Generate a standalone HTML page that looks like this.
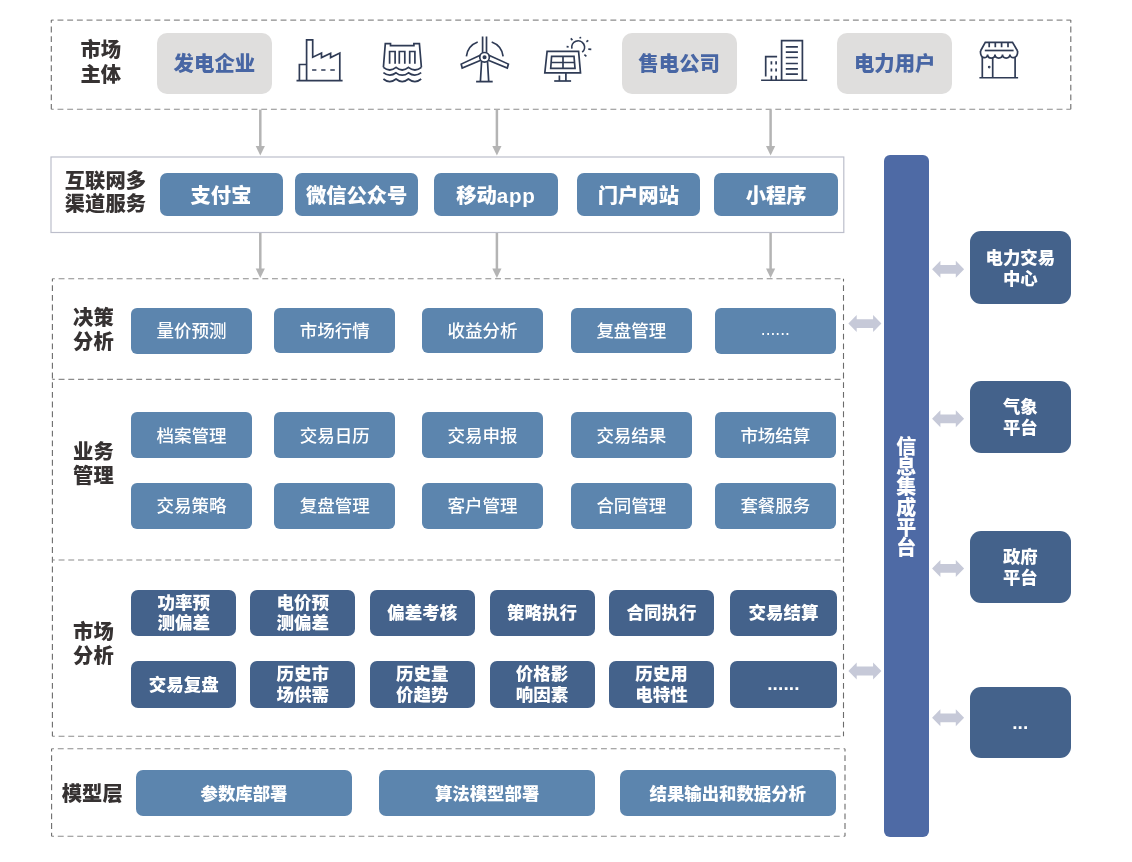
<!DOCTYPE html>
<html lang="zh-CN"><head><meta charset="utf-8"><title>电力交易平台架构</title>
<style>
*{margin:0;padding:0;box-sizing:border-box}
html,body{width:1132px;height:862px;background:#fff;overflow:hidden}
body{position:relative;font-family:"Liberation Sans","Noto Sans CJK SC",sans-serif;}
.b span{position:relative;top:-1.2px;display:block}
.c span{top:-0.75px}.l span{top:-1.2px}.d span{top:0.4px}.m span{top:-0.5px}.r span{top:1.5px}.bar span{top:1.5px}
.b{position:absolute;display:flex;align-items:center;justify-content:center;text-align:center;color:#fff;white-space:nowrap}
.lab{position:absolute;color:#363232;font-weight:900;font-size:20.3px;text-align:center;white-space:nowrap}
.g{background:#dfdedd;border-radius:10px;color:#4866a4;font-weight:900;font-size:20.4px}
.c{background:#5c85ae;border-radius:7px;font-weight:900;font-size:20.3px}
.l{background:#5c85ae;border-radius:6px;font-weight:500;font-size:17.5px}
.d{background:#44628b;border-radius:7px;font-weight:900;font-size:17.5px;line-height:20.5px}
.m{background:#5c85ae;border-radius:7px;font-weight:900;font-size:17.4px}
.r{background:#44628b;border-radius:11px;font-weight:900;font-size:17.4px;line-height:20.7px}
.bar{background:#4e6aa5;border-radius:6px;font-weight:900;font-size:20px;line-height:20.25px}
i.la{font-style:normal;letter-spacing:0.7px;font-size:20.6px}
i.dd{font-style:normal;font-size:19px;letter-spacing:0.15px;position:relative;top:-0.5px}
#stage{position:absolute;left:0;top:0;width:1132px;height:862px;background:#fff;will-change:transform;filter:blur(0.55px);overflow:hidden}
svg{position:absolute;left:0;top:0}
</style></head>
<body>
<div id="stage">
<svg width="1132" height="862" viewBox="0 0 1132 862">
<path d="M51.3 20.1H1070.8M51.3 109.3H1070.8" fill="none" stroke="#8c8c8c" stroke-width="1.1" stroke-dasharray="5.9 3.8" stroke-dashoffset="3.5"/>
<path d="M51.3 20.1V109.3M1070.8 20.1V109.3" fill="none" stroke="#6c6c6c" stroke-width="1.1" stroke-dasharray="5.9 3.8" stroke-dashoffset="3.3"/>
<path d="M52.4 278.8H843.5M52.4 736.3H843.5" fill="none" stroke="#8c8c8c" stroke-width="1.1" stroke-dasharray="5.9 3.8" stroke-dashoffset="3.5"/>
<path d="M52.4 278.8V736.3M843.5 278.8V736.3" fill="none" stroke="#6c6c6c" stroke-width="1.1" stroke-dasharray="5.9 3.8" stroke-dashoffset="3.3"/>
<path d="M52.4 379.4H843.5M52.4 560H843.5" fill="none" stroke="#8c8c8c" stroke-width="1.1" stroke-dasharray="5.9 3.8" stroke-dashoffset="3.5"/>
<path d="M51.6 748.8H845M51.6 836.3H845" fill="none" stroke="#8c8c8c" stroke-width="1.1" stroke-dasharray="5.9 3.8" stroke-dashoffset="3.5"/>
<path d="M51.6 748.8V836.3M845 748.8V836.3" fill="none" stroke="#6c6c6c" stroke-width="1.1" stroke-dasharray="5.9 3.8" stroke-dashoffset="3.3"/>
<rect x="51" y="157" width="792.8" height="75.5" fill="#fff" stroke="#bcbecb" stroke-width="1.2"/>
<path d="M260.3 109.6V149.5" stroke="#b4b4b4" stroke-width="2.5" fill="none"/>
<path d="M255.70000000000002 146.0L260.3 155.5L264.90000000000003 146.0Z" fill="#b4b4b4"/>
<path d="M260.3 233V272" stroke="#b4b4b4" stroke-width="2.5" fill="none"/>
<path d="M255.70000000000002 268.5L260.3 278L264.90000000000003 268.5Z" fill="#b4b4b4"/>
<path d="M496.9 109.6V149.5" stroke="#b4b4b4" stroke-width="2.5" fill="none"/>
<path d="M492.29999999999995 146.0L496.9 155.5L501.5 146.0Z" fill="#b4b4b4"/>
<path d="M496.9 233V272" stroke="#b4b4b4" stroke-width="2.5" fill="none"/>
<path d="M492.29999999999995 268.5L496.9 278L501.5 268.5Z" fill="#b4b4b4"/>
<path d="M770.6 109.6V149.5" stroke="#b4b4b4" stroke-width="2.5" fill="none"/>
<path d="M766.0 146.0L770.6 155.5L775.2 146.0Z" fill="#b4b4b4"/>
<path d="M770.6 233V272" stroke="#b4b4b4" stroke-width="2.5" fill="none"/>
<path d="M766.0 268.5L770.6 278L775.2 268.5Z" fill="#b4b4b4"/>
<path d="M848.4 323.6L856.6999999999999 315.1V319.20000000000005H873.1V315.1L881.4 323.6L873.1 332.1V328.0H856.6999999999999V332.1Z" fill="#c6c9d8"/>
<path d="M848.4 671L856.6999999999999 662.5V666.6H873.1V662.5L881.4 671L873.1 679.5V675.4H856.6999999999999V679.5Z" fill="#c6c9d8"/>
<path d="M932.1 269.3L940.4 260.8V264.90000000000003H955.8000000000001V260.8L964.1 269.3L955.8000000000001 277.8V273.7H940.4V277.8Z" fill="#c6c9d8"/>
<path d="M932.1 418.8L940.4 410.3V414.40000000000003H955.8000000000001V410.3L964.1 418.8L955.8000000000001 427.3V423.2H940.4V427.3Z" fill="#c6c9d8"/>
<path d="M932.1 568.4L940.4 559.9V564.0H955.8000000000001V559.9L964.1 568.4L955.8000000000001 576.9V572.8H940.4V576.9Z" fill="#c6c9d8"/>
<path d="M932.1 717.8L940.4 709.3V713.4H955.8000000000001V709.3L964.1 717.8L955.8000000000001 726.3V722.1999999999999H940.4V726.3Z" fill="#c6c9d8"/>
<g fill="none" stroke="#2f3b55" stroke-width="1.7" stroke-linejoin="miter" stroke-linecap="butt">
<!-- factory -->
<path d="M296.5 80.7H342.6" stroke-width="1.7"/>
<path d="M299.4 80.7V64.5H306.6"/>
<path d="M306.6 80.7V39.8H312.7V57.2L321.5 53.1V57.6L330.6 53.3V57.6L339.8 53.1V80.7"/>
<path d="M312.1 70H316.4M321.2 70H325.5M330.3 70H334.8"/>
<!-- dam -->
<path d="M383.4 67.4L385.3 43.6H390.5V45.7H413.9V43.6H419.4L421.4 67.4"/>
<path d="M383.4 67.4Q389.7 72.6 396.05 67.4Q402.2 72.6 408.4 67.4Q414.9 72.6 421.4 67.4"/>
<path d="M389.6 63.8V51.5H395.1V63.8M399.3 63.8V51.5H404.8V63.8M409.7 63.8V51.5H414.9V63.8"/>
<path d="M383.4 72.6Q389.7 77.6 396.05 72.8Q402.2 77.6 408.4 72.8Q414.9 77.6 421.2 72.6"/>
<path d="M383.4 79Q389.7 84.2 396.05 79Q402.2 84.2 408.4 79Q414.9 84.2 421.2 79"/>
<!-- wind turbine -->
<circle cx="484.55" cy="57.3" r="4.8"/>
<circle cx="484.55" cy="57.3" r="1.2" fill="#2f3b55"/>
<path d="M482.6 36.5V53M486.5 36.5V53"/>
<path d="M480.2 55.2L461.2 64.1L462.2 68L480.8 60.3"/>
<path d="M488.9 55.2L508.4 64.1L507.3 68L488.3 60.3"/>
<path d="M481.6 61.2L480.4 81.4M487.5 61.2L488.7 81.4"/>
<path d="M476.1 81.6H492.7" stroke-width="1.8"/>
<path d="M466.4 56.3A17.6 17.6 0 0 1 477.7 42"/>
<path d="M491.7 42A17.6 17.6 0 0 1 503.1 56.3"/>
<!-- solar -->
<path d="M547.1 51.4H578.6L580.5 72.9H544.8Z"/>
<path d="M551.6 56.3H574L575 68.3H550.7Z"/>
<path d="M563 56.3V68.3M551.1 62.5H574.5"/>
<path d="M559.4 75.5V81M565.9 72.9V81"/>
<path d="M554.2 81H571.1" stroke-width="1.7"/>
<path d="M571.9 48.6A6.4 6.4 0 1 1 582.2 52.2"/>
<path d="M566.6 46.6L568.6 46.8M570.8 38.4L572.4 40.1M580.2 36.8L580.5 38.5M586.4 41.7L588.3 40.4M588.3 49.2L591.3 49.4M584.4 54.7L586.4 56.3"/>
<!-- building -->
<path d="M761.1 80.2H807.2" stroke-width="1.6"/>
<path d="M781.6 80.2V40.6H802.4V80.2"/>
<path d="M785.8 46.8H797.9M785.8 52.1H797.9M785.8 57.5H797.9M785.8 63.5H797.9M785.8 68.8H797.9M785.8 74.2H797.9"/>
<path d="M765.7 76.6V56.7H777.1"/>
<path d="M771.4 61.2V64.5M771.4 68.4V71.6M771.4 75.8V80.2M776.1 61.2V64.5M776.1 68.4V71.6M776.1 75.8V80.2"/>
<!-- shop -->
<path d="M979.4 77.8H1018.1" stroke-width="1.6"/>
<path d="M982.3 57V77.8M1015.1 57V77.8M992.7 57V77.8"/>
<path d="M980.5 51L985.3 42.4H1012.5L1017.6 51"/>
<path d="M984.8 50.5H1013.6"/>
<path d="M980.5 51C980 59.2 987.5 59.2 987.6 54.6C987.8 59.2 995 59.2 995 54.6C995.1 59.2 1002.4 59.2 1002.5 54.6C1002.6 59.2 1009.8 59.2 1009.9 54.6C1010 59.2 1018 59.2 1017.6 51"/>
<path d="M989.2 42.7V47.3M995.3 42.7V47.3M1001.6 42.7V47.3M1008 42.7V47.3"/>
<circle cx="989.2" cy="67.1" r="0.5" fill="#2f3b55"/>
</g>

</svg>
<div class="lab" style="left:40.75px;width:120px;top:38.2px;line-height:25px">市场<br>主体</div>
<div class="lab" style="left:45.400000000000006px;width:120px;top:169.8px;line-height:23.4px">互联网多<br>渠道服务</div>
<div class="lab" style="left:33.400000000000006px;width:120px;top:306.0px;line-height:24.2px">决策<br>分析</div>
<div class="lab" style="left:33.400000000000006px;width:120px;top:439.55px;line-height:24.4px">业务<br>管理</div>
<div class="lab" style="left:33.400000000000006px;width:120px;top:619.7px;line-height:24px">市场<br>分析</div>
<div class="lab" style="left:32.25px;width:120px;top:781.8px;line-height:24px">模型层</div>
<div class="b g" style="left:157px;top:33.4px;width:114.8px;height:60.2px;"><span>发电企业</span></div>
<div class="b g" style="left:621.6px;top:33.4px;width:115.1px;height:60.2px;"><span>售电公司</span></div>
<div class="b g" style="left:837.4px;top:33.4px;width:114.6px;height:60.2px;"><span>电力用户</span></div>
<div class="b c" style="left:159.5px;top:173.2px;width:123.0px;height:43.1px;"><span>支付宝</span></div>
<div class="b c" style="left:295px;top:173.2px;width:123.25px;height:43.1px;"><span>微信公众号</span></div>
<div class="b c" style="left:434.25px;top:173.2px;width:123.25px;height:43.1px;"><span>移动<i class="la">app</i></span></div>
<div class="b c" style="left:576.75px;top:173.2px;width:123.25px;height:43.1px;"><span>门户网站</span></div>
<div class="b c" style="left:714.25px;top:173.2px;width:123.75px;height:43.1px;"><span>小程序</span></div>
<div class="b l" style="left:131.25px;top:308.1px;width:120.65px;height:45.6px;"><span>量价预测</span></div>
<div class="b l" style="left:274.1px;top:307.5px;width:121.4px;height:45.6px;"><span>市场行情</span></div>
<div class="b l" style="left:422px;top:307.5px;width:121px;height:45.6px;"><span>收益分析</span></div>
<div class="b l" style="left:570.75px;top:307.5px;width:121.25px;height:45.6px;"><span>复盘管理</span></div>
<div class="b l" style="left:714.5px;top:308.1px;width:121.75px;height:45.6px;"><span>......</span></div>
<div class="b l" style="left:131.25px;top:412px;width:120.65px;height:46.4px;"><span>档案管理</span></div>
<div class="b l" style="left:274.1px;top:412px;width:121.4px;height:46.4px;"><span>交易日历</span></div>
<div class="b l" style="left:422px;top:412px;width:121px;height:46.4px;"><span>交易申报</span></div>
<div class="b l" style="left:570.75px;top:412px;width:121.25px;height:46.4px;"><span>交易结果</span></div>
<div class="b l" style="left:714.5px;top:412px;width:121.75px;height:46.4px;"><span>市场结算</span></div>
<div class="b l" style="left:131.25px;top:483px;width:120.65px;height:45.8px;"><span>交易策略</span></div>
<div class="b l" style="left:274.1px;top:483px;width:121.4px;height:45.8px;"><span>复盘管理</span></div>
<div class="b l" style="left:422px;top:483px;width:121px;height:45.8px;"><span>客户管理</span></div>
<div class="b l" style="left:570.75px;top:483px;width:121.25px;height:45.8px;"><span>合同管理</span></div>
<div class="b l" style="left:714.5px;top:483px;width:121.75px;height:45.8px;"><span>套餐服务</span></div>
<div class="b d" style="left:131.25px;top:589.5px;width:105.05px;height:46.25px;"><span>功率预<br>测偏差</span></div>
<div class="b d" style="left:250.2px;top:589.5px;width:105.3px;height:46.25px;"><span>电价预<br>测偏差</span></div>
<div class="b d" style="left:369.6px;top:589.5px;width:105.3px;height:46.25px;"><span>偏差考核</span></div>
<div class="b d" style="left:489.5px;top:589.5px;width:105.0px;height:46.25px;"><span>策略执行</span></div>
<div class="b d" style="left:608.8px;top:589.5px;width:105.4px;height:46.25px;"><span>合同执行</span></div>
<div class="b d" style="left:730.3px;top:589.5px;width:106.3px;height:46.25px;"><span>交易结算</span></div>
<div class="b d" style="left:131.25px;top:661.25px;width:105.05px;height:46.25px;"><span>交易复盘</span></div>
<div class="b d" style="left:250.2px;top:661.25px;width:105.3px;height:46.25px;"><span>历史市<br>场供需</span></div>
<div class="b d" style="left:369.6px;top:661.25px;width:105.3px;height:46.25px;"><span>历史量<br>价趋势</span></div>
<div class="b d" style="left:489.5px;top:661.25px;width:105.0px;height:46.25px;"><span>价格影<br>响因素</span></div>
<div class="b d" style="left:608.8px;top:661.25px;width:105.4px;height:46.25px;"><span>历史用<br>电特性</span></div>
<div class="b d" style="left:730.3px;top:661.25px;width:106.3px;height:46.25px;"><span><i class="dd">......</i></span></div>
<div class="b m" style="left:136px;top:770px;width:216px;height:46.25px;"><span>参数库部署</span></div>
<div class="b m" style="left:379.25px;top:770px;width:215.75px;height:46.25px;"><span>算法模型部署</span></div>
<div class="b m" style="left:620px;top:770px;width:215.5px;height:46.25px;"><span>结果输出和数据分析</span></div>
<div class="b bar" style="left:883.6px;top:155px;width:45.1px;height:682px;"><span>信<br>息<br>集<br>成<br>平<br>台</span></div>
<div class="b r" style="left:969.5px;top:231.25px;width:101.6px;height:72.35px;"><span>电力交易<br>中心</span></div>
<div class="b r" style="left:969.5px;top:380.5px;width:101.6px;height:72.0px;"><span>气象<br>平台</span></div>
<div class="b r" style="left:969.5px;top:530.5px;width:101.6px;height:72.1px;"><span>政府<br>平台</span></div>
<div class="b r" style="left:969.5px;top:686.5px;width:101.6px;height:71.8px;"><span><i class="dd">...</i></span></div>
</div>
</body></html>
